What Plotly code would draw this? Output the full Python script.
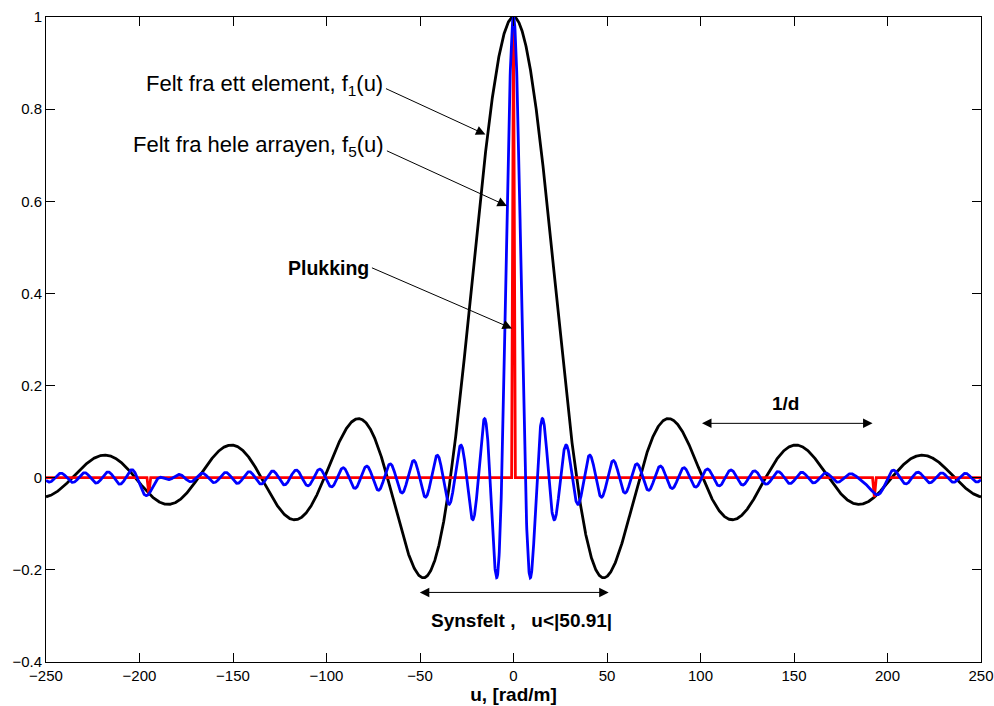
import numpy as np
import plotly.graph_objects as go

# Spatial frequency axis, u [rad/m]
U_RANGE = [-250, 250]
N_SAMPLES = 5001

# Single-element pattern f1(u) = sin(a*u)/(a*u)
ELEMENT_SCALE = 0.0932
# Full array aperture pattern sin(b*u)/(b*u)
APERTURE_SCALE = 0.5
# Positions of the sampling comb (main lobe and grating lobes, spacing 1/d)
COMB_U = [-195.0, 0.0, 193.0]
COMB_HALF_WIDTH = 1.0

# Field of view and grating-lobe spacing markers
FOV_U = 50.91
PERIOD_ARROW_U = [100, 192]

X_TICKS = [-250, -200, -150, -100, -50, 0, 50, 100, 150, 200, 250]
Y_TICKS = [-0.4, -0.2, 0, 0.2, 0.4, 0.6, 0.8, 1]
Y_TICK_TEXT = ["\u22120.4", "\u22120.2", "0", "0.2", "0.4", "0.6", "0.8", "1"]


def sinc(x):
    return np.sinc(x / np.pi)


u = np.linspace(U_RANGE[0], U_RANGE[1], N_SAMPLES)
f1 = sinc(ELEMENT_SCALE * u)

comb_heights = [float(sinc(ELEMENT_SCALE * p)) for p in COMB_U]
f5 = np.zeros_like(u)
for p, h in zip(COMB_U, comb_heights):
    f5 += h * sinc(APERTURE_SCALE * (u - p))

# Sampled ("plukking") comb as narrow spikes on a zero baseline
pick_x = [U_RANGE[0]]
pick_y = [0.0]
for p, h in zip(COMB_U, comb_heights):
    pick_x += [p - COMB_HALF_WIDTH, p, p + COMB_HALF_WIDTH]
    pick_y += [0.0, h, 0.0]
pick_x.append(U_RANGE[1])
pick_y.append(0.0)

fig = go.Figure()
fig.add_trace(go.Scatter(x=u, y=f1, mode="lines",
                         line=dict(color="black", width=2.8), showlegend=False))
fig.add_trace(go.Scatter(x=pick_x, y=pick_y, mode="lines",
                         line=dict(color="#ff0000", width=2.8), showlegend=False))
fig.add_trace(go.Scatter(x=u, y=f5, mode="lines",
                         line=dict(color="#0000ff", width=2.8), showlegend=False))

FONT = "Liberation Sans, Arial, Helvetica, sans-serif"


def arrow(tip, tail, both=False):
    return dict(x=tip[0], y=tip[1], ax=tail[0], ay=tail[1],
                xref="x", yref="y", axref="x", ayref="y",
                text="", showarrow=True, arrowhead=2, arrowsize=1.9,
                arrowwidth=1, arrowcolor="black", standoff=0, startstandoff=0,
                arrowside="end+start" if both else "end")


def label(x, y, text, size, xanchor="center"):
    return dict(x=x, y=y, xref="x", yref="y", text=text, showarrow=False,
                xanchor=xanchor, yanchor="middle", borderpad=0,
                font=dict(family=FONT, size=size, color="black"))


annotations = [
    arrow((-15.0, 0.745), (-69.0, 0.846)),
    arrow((-3.5, 0.59), (-68.5, 0.711)),
    arrow((-0.8, 0.324), (-76.5, 0.457)),
    arrow((PERIOD_ARROW_U[1], 0.118), (PERIOD_ARROW_U[0], 0.118), both=True),
    arrow((FOV_U, -0.249), (-FOV_U, -0.249), both=True),
    label(-69.0, 0.852, "Felt fra ett element, f<sub>1</sub>(u)", 22, "right"),
    label(-68.8, 0.719, "Felt fra hele arrayen, f<sub>5</sub>(u)", 22, "right"),
    label(-76.5, 0.456, "<b>Plukking</b>", 19.5, "right"),
    label(145.7, 0.162, "<b>1/d</b>", 19),
    label(4.3, -0.309, "<b>Synsfelt ,&nbsp;&nbsp; u&lt;|50.91|</b>", 19),
]

axis_common = dict(showgrid=False, zeroline=False, showline=True,
                   linecolor="black", linewidth=1, mirror="allticks",
                   ticks="inside", ticklen=9, tickcolor="black", tickwidth=1,
                   automargin=False,
                   tickfont=dict(family=FONT, size=15, color="black"))

fig.update_layout(
    width=994, height=706,
    margin=dict(l=46, r=13, t=17, b=44),
    paper_bgcolor="white", plot_bgcolor="white",
    annotations=annotations,
    xaxis=dict(range=U_RANGE, tickvals=X_TICKS,
               ticktext=[str(t).replace("-", "\u2212") for t in X_TICKS],
               title=dict(text="<b>u, [rad/m]</b>",
                          font=dict(family=FONT, size=19, color="black"),
                          standoff=1),
               **axis_common),
    yaxis=dict(range=[-0.4, 1], tickvals=Y_TICKS, ticktext=Y_TICK_TEXT,
               **axis_common),
)

fig.write_html("out.html")
